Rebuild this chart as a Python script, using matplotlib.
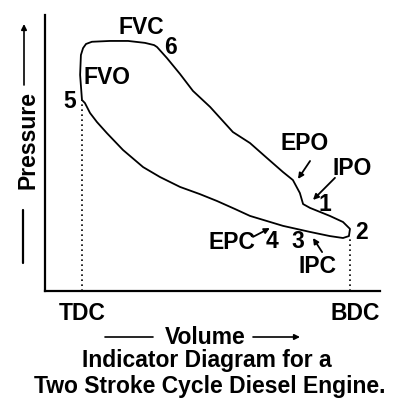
"""
Indicator diagram for a two stroke cycle diesel engine.
"""
import matplotlib
matplotlib.use("Agg")
from matplotlib import pyplot as plt

plt.rcParams['font.family'] = ['Liberation Sans', 'DejaVu Sans']
plt.rcParams['font.weight'] = 'bold'

#------------------------------------------------------------
# Loop (volume: TDC=0, BDC=100; pressure: arbitrary 0-100)
# starts at point 5, goes up to FVC/6, down the expansion line to 1-2,
# and back along the compression line
volume = [0.0, -0.7, -0.4, 0.4, 1.5, 3.7, 10.4, 17.2, 23.5, 26.9, 28.0, 31.7,
          36.6, 41.4, 47.8, 56.3, 62.7, 69.0, 75.0, 78.7, 81.3, 82.5, 85.1,
          92.5, 97.4, 100.0, 99.6, 97.4, 92.5, 85.1, 75.0, 62.7, 57.1, 50.4,
          44.0, 36.6, 29.1, 22.8, 15.3, 9.3, 5.6, 3.0, 1.1, 0.0]
pressure = [69.2, 78.3, 85.5, 88.0, 89.5, 90.3, 90.6, 90.6, 89.9, 89.1, 88.4,
            84.4, 78.6, 72.5, 66.7, 57.6, 53.6, 48.2, 43.1, 40.2, 35.5, 31.5,
            30.1, 27.2, 25.0, 22.5, 19.9, 19.2, 19.9, 21.4, 23.6, 27.2, 29.7,
            32.6, 35.1, 37.7, 41.3, 44.9, 51.1, 57.2, 61.2, 64.5, 68.1, 69.2]

tdc_v, tdc_p = 0.0, 69.2
bdc_v, bdc_p = 100.0, 19.5

# point labels: (text, volume, pressure)
labels = [("FVC", 22.0, 95.4), ("6", 33.2, 88.4), ("FVO", 9.3, 77.2),
          ("5", -4.5, 68.8), ("EPO", 83.2, 53.6), ("IPO", 101.0, 44.5),
          ("1", 90.8, 31.5), ("2", 104.5, 21.2), ("EPC", 56.0, 17.7),
          ("4", 70.9, 18.1), ("3", 80.6, 18.1), ("IPC", 87.7, 8.7)]

# arrows: (tail volume, tail pressure, head volume, head pressure)
arrows = [(85.1, 47.1, 80.6, 40.6), (94.4, 41.0, 86.2, 33.0),
          (63.8, 19.6, 70.1, 22.8), (89.6, 14.1, 86.2, 19.2)]

FS = 16.5

#------------------------------------------------------------
fig = plt.figure(figsize=(4.14, 4.2), dpi=100)
ax = fig.add_axes([45 / 414, 129 / 420, 335 / 414, 276 / 420])
ax.set_xlim(-13.8, 111.2)
ax.set_ylim(0, 100)
for s in ['top', 'right']:
    ax.spines[s].set_visible(False)
for s in ['left', 'bottom']:
    ax.spines[s].set_linewidth(1.6)
ax.set_xticks([])
ax.set_yticks([])

ax.fill(volume, pressure, fill=False, ec='black', lw=1.3, closed=True,
        joinstyle='round')
ax.plot([tdc_v, tdc_v], [0, tdc_p], ls=(0, (1, 2)), color='black', lw=1.2)
ax.plot([bdc_v, bdc_v], [0, bdc_p], ls=(0, (1, 2)), color='black', lw=1.2)

for txt, v, p in labels:
    ax.text(v, p, txt, fontsize=FS, ha='center', va='center')

for v0, p0, v1, p1 in arrows:
    ax.annotate('', xy=(v1, p1), xytext=(v0, p0),
                arrowprops=dict(arrowstyle='-|>', color='black', lw=1.3,
                                mutation_scale=8, shrinkA=0, shrinkB=0))

#------------------------------------------------------------
# outer labels, placed in figure pixels (origin bottom left)
H = 420
fig.text(82 / 414, 1 - 313 / H, "TDC", fontsize=FS, ha='center', va='center')
fig.text(355 / 414, 1 - 313 / H, "BDC", fontsize=FS, ha='center', va='center')
fig.text(205 / 414, 1 - 337 / H, "Volume", fontsize=FS, ha='center', va='center')
fig.text(207 / 414, 1 - 361 / H, "Indicator Diagram for a", fontsize=FS,
         ha='center', va='center')
fig.text(210 / 414, 1 - 386 / H, "Two Stroke Cycle Diesel Engine.", fontsize=FS,
         ha='center', va='center')
fig.text(28 / 414, 1 - 140 / H, "Pressure", fontsize=FS, rotation=90,
         ha='center', va='center')

kw = dict(xycoords='figure pixels', textcoords='figure pixels')
ax.annotate('', xy=(300, H - 337), xytext=(253, H - 337),
            arrowprops=dict(arrowstyle='-|>', color='black', lw=1.2,
                            mutation_scale=8, shrinkA=0, shrinkB=0), **kw)
ax.annotate('', xy=(153, H - 337), xytext=(105, H - 337),
            arrowprops=dict(arrowstyle='-', color='black', lw=1.2,
                            shrinkA=0, shrinkB=0), **kw)
ax.annotate('', xy=(24, H - 24), xytext=(24, H - 85),
            arrowprops=dict(arrowstyle='-|>', color='black', lw=1.2,
                            mutation_scale=8, shrinkA=0, shrinkB=0), **kw)
ax.annotate('', xy=(23, H - 263), xytext=(23, H - 210),
            arrowprops=dict(arrowstyle='-', color='black', lw=1.6,
                            shrinkA=0, shrinkB=0), **kw)

plt.savefig("out.png", dpi=100)
